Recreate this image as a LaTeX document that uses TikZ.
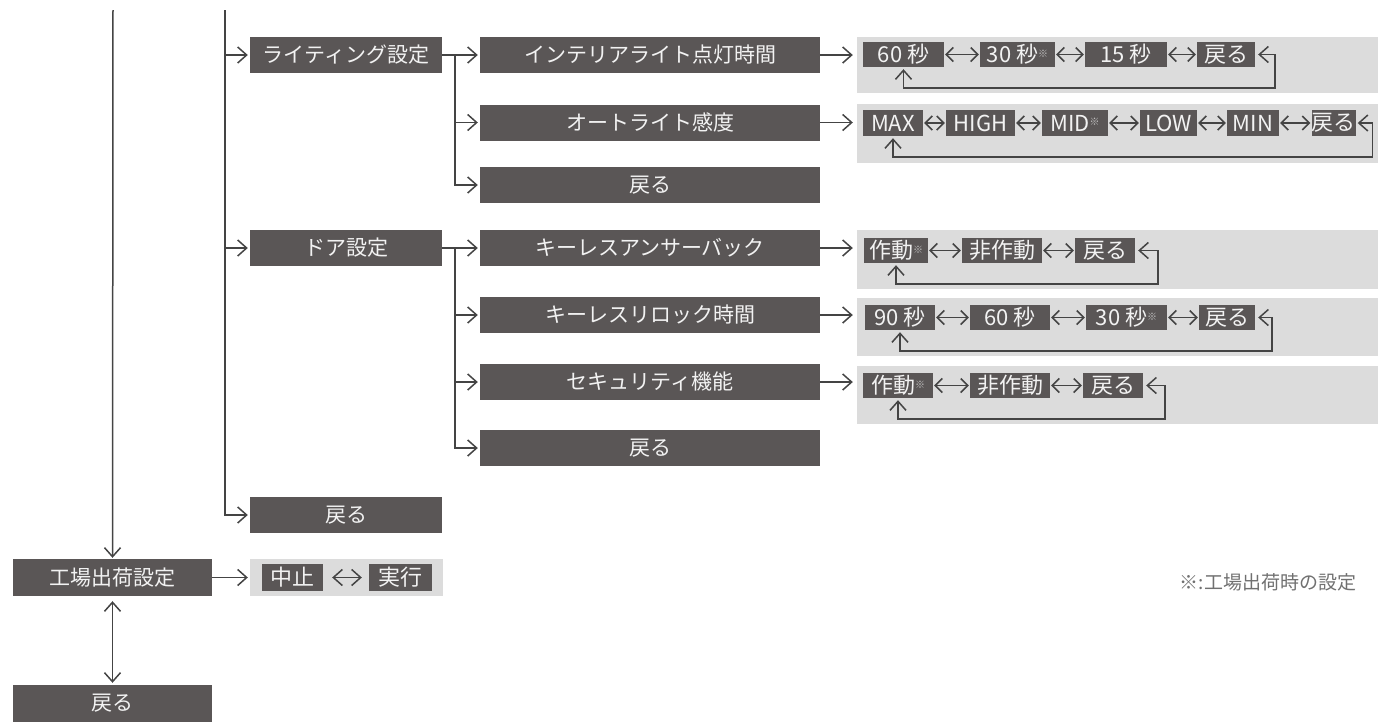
\documentclass[tikz,border=0pt]{standalone}
\usepackage{fontspec}
\setmainfont{Noto Sans CJK JP}
\usetikzlibrary{arrows.meta,calc}
\definecolor{boxc}{HTML}{5A5656}
\definecolor{boxt}{HTML}{F2F2F2}
\definecolor{panc}{HTML}{DCDCDC}
\definecolor{linec}{HTML}{444444}
\definecolor{komec}{HTML}{C4C4C4}
\definecolor{notec}{HTML}{707070}
\newcommand\myKome{\textcolor{komec}{\raisebox{0.45ex}{\fontsize{10}{10}\selectfont ※}}}
\begin{document}
\begin{tikzpicture}[x=1pt,y=-1pt,
  dbox/.style={fill=boxc, text=boxt, inner sep=0pt, anchor=center},
  lv/.style={dbox, minimum height=36pt, font=\fontsize{21}{21}\selectfont},
  lv2/.style={lv, minimum width=192pt},
  lv3/.style={lv, minimum width=340pt},
  opt/.style={dbox, minimum height=25pt, font=\fontsize{22}{22}\selectfont},
  pan/.style={fill=panc, inner sep=0pt, minimum width=521pt, anchor=center},
  conn/.style={draw=linec, line width=1.5pt},
  arr/.style={conn, -{Straight Barb[length=9pt,width=16pt]}},
  darr/.style={conn, {Straight Barb[length=9pt,width=16pt]}-{Straight Barb[length=9pt,width=16pt]}},
  oarr/.style={conn, {Straight Barb[length=7pt,width=14pt]}-{Straight Barb[length=7pt,width=14pt]}},
  note/.style={text=notec, font=\fontsize{19}{19}\selectfont, inner sep=0pt}
]
\useasboundingbox (0,0) rectangle (1387,726);

% ---------- panels (background) ----------
\node[pan, minimum height=56pt] (P1) at (1117.5,65) {};
\node[pan, minimum height=59pt] (P2) at (1117.5,133.5) {};
\node[pan, minimum height=59pt] (P3) at (1117.5,259.5) {};
\node[pan, minimum height=58pt] (P4) at (1117.5,327) {};
\node[pan, minimum height=58pt] (P5) at (1117.5,395) {};
\node[fill=panc, inner sep=0pt, minimum width=193pt, minimum height=37pt] (FP) at (346.5,577.5) {};

% ---------- level 1 ----------
\coordinate (top1) at (113,10);
\coordinate (top2) at (225,10);
\node[lv, minimum width=199pt, minimum height=37pt] (F) at (112.5,577.5) {工場出荷設定};
\node[lv, minimum width=199pt, minimum height=37pt] (B0) at (112.5,703.5) {戻る};

% ---------- level 2 ----------
\node[lv2] (L) at (346,55) {ライティング設定};
\node[lv2] (D) at (346,248) {ドア設定};
\node[lv2] (B2) at (346,515) {戻る};

% ---------- level 3 ----------
\node[lv3] (L1) at (650,55) {インテリアライト点灯時間};
\node[lv3] (L2) at (650,122.5) {オートライト感度};
\node[lv3] (L3) at (650,185) {戻る};
\node[lv3] (D1) at (650,248) {キーレスアンサーバック};
\node[lv3] (D2) at (650,315) {キーレスリロック時間};
\node[lv3] (D3) at (650,382) {セキュリティ機能};
\node[lv3] (D4) at (650,448) {戻る};

% ---------- options row 1 ----------
\node[opt, minimum width=81pt] (a1) at (903.5,54.5) {60 秒};
\node[opt, minimum width=75pt] (a2) at (1017.5,54.5) {30 秒\myKome};
\node[opt, minimum width=82pt] (a3) at (1126,54.5) {15 秒};
\node[opt, minimum width=58pt] (a4) at (1226,54.5) {戻る};
% row 2
\node[opt, minimum width=60pt, minimum height=26pt] (b1) at (893,123) {MAX};
\node[opt, minimum width=69pt, minimum height=26pt] (b2) at (980.5,123) {HIGH};
\node[opt, minimum width=66pt, minimum height=26pt] (b3) at (1075,123) {MID\myKome};
\node[opt, minimum width=57pt, minimum height=26pt] (b4) at (1168.5,123) {LOW};
\node[opt, minimum width=52pt, minimum height=26pt] (b5) at (1253,123) {MIN};
\node[opt, minimum width=43pt, minimum height=26pt] (b6) at (1333.5,123) {戻る};
% row 3
\node[opt, minimum width=64pt] (c1) at (896,250.5) {作動\myKome};
\node[opt, minimum width=80pt] (c2) at (1002,250.5) {非作動};
\node[opt, minimum width=60pt] (c3) at (1105,250.5) {戻る};
% row 4
\node[opt, minimum width=70pt] (d1) at (900,317.5) {90 秒};
\node[opt, minimum width=80pt] (d2) at (1010,317.5) {60 秒};
\node[opt, minimum width=81pt] (d3) at (1126.5,317.5) {30 秒\myKome};
\node[opt, minimum width=56pt] (d4) at (1227,317.5) {戻る};
% row 5
\node[opt, minimum width=70pt] (e1) at (898,385.5) {作動\myKome};
\node[opt, minimum width=80pt] (e2) at (1010,385.5) {非作動};
\node[opt, minimum width=60pt] (e3) at (1113,385.5) {戻る};
% factory reset
\node[opt, minimum width=61pt, minimum height=27pt] (s1) at (292.5,577.5) {中止};
\node[opt, minimum width=63pt, minimum height=27pt] (s2) at (400.5,577.5) {実行};

% note
\node[note] (NT) at (1268,582) {※:工場出荷時の設定};

% ---------- connectors ----------
\draw[arr, shorten >=1pt] (top1) -- (F.north);
\draw[darr, shorten <=5pt, shorten >=2pt] (F.south) -- (B0.north);
\draw[arr, shorten >=2pt] (F.east) -- (FP.west);
\draw[darr, shorten <=9pt, shorten >=7pt] (s1.east) -- (s2.west);

\draw[arr, shorten >=2pt] (top2) |- (B2.west);
\draw[arr, shorten >=2pt] (top2 |- L.west) -- (L.west);
\draw[arr, shorten >=2pt] (top2 |- D.west) -- (D.west);

\coordinate (jL) at (455,55);
\draw[arr, shorten >=2pt] (L.east) -- (L1.west);
\draw[arr, shorten >=2pt] (jL) |- (L3.west);
\draw[arr, shorten >=2pt] (jL |- L2.west) -- (L2.west);

\coordinate (jD) at (455,248);
\draw[arr, shorten >=2pt] (D.east) -- (D1.west);
\draw[arr, shorten >=2pt] (jD) |- (D4.west);
\draw[arr, shorten >=2pt] (jD |- D2.west) -- (D2.west);
\draw[arr, shorten >=2pt] (jD |- D3.west) -- (D3.west);

\foreach \s/\p in {L1/P1, L2/P2, D1/P3, D2/P4, D3/P5}
  \draw[arr, shorten >=4pt] (\s.east) -- (\s.east -| \p.west);

% double arrows between options
\foreach \u/\v in {a1/a2, a2/a3, a3/a4, b1/b2, b2/b3, b3/b4, b4/b5, b5/b6,
                   c1/c2, c2/c3, d1/d2, d2/d3, d3/d4, e1/e2, e2/e3}
  \draw[oarr, shorten <=1pt, shorten >=1pt] (\u.east) -- (\v.west);

% return loops
\draw[darr, shorten <=3pt, shorten >=2pt] (a4.east) -- ++(20,0) |- ([yshift=-21pt]a1.south) -- (a1.south);
\draw[darr, shorten <=2pt, shorten >=2pt] (b6.east) -- ++(17,0) |- ([yshift=-21pt]b1.south) -- (b1.south);
\draw[darr, shorten <=3pt, shorten >=2pt] (c3.east) -- ++(23,0) |- ([yshift=-21pt]c1.south) -- (c1.south);
\draw[darr, shorten <=3pt, shorten >=2pt] (d4.east) -- ++(17,0) |- ([yshift=-21pt]d1.south) -- (d1.south);
\draw[darr, shorten <=3pt, shorten >=2pt] (e3.east) -- ++(22,0) |- ([yshift=-21pt]e1.south) -- (e1.south);
\end{tikzpicture}
\end{document}
